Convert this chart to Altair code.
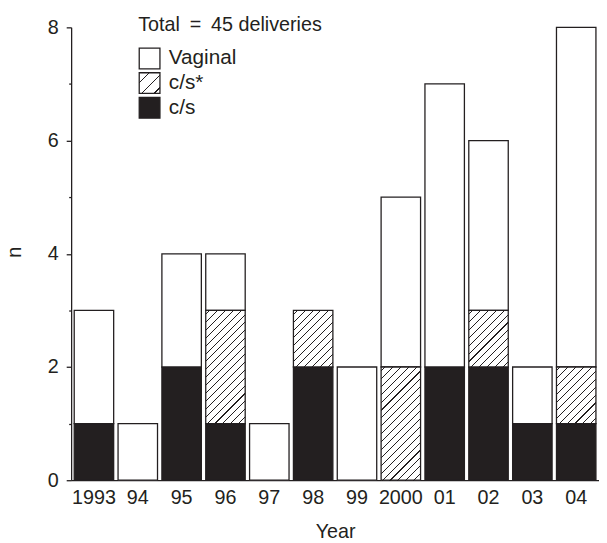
import json
import altair as alt
import pandas as pd

# ---- data ----
years = ["1993", "94", "95", "96", "97", "98", "99", "2000", "01", "02", "03", "04"]
cs = [1, 0, 2, 1, 0, 2, 0, 0, 2, 2, 1, 1]
cs_star = [0, 0, 0, 2, 0, 1, 0, 2, 0, 1, 0, 1]
vaginal = [2, 1, 2, 1, 1, 0, 2, 3, 5, 3, 1, 6]
categories = ["Vaginal", "c/s*", "c/s"]
legend_title = "Total\u2002=\u200245 deliveries"

INK = "#231f20"
FONT = "Liberation Sans"
W, H = 535, 459
YMAX = 8

rows = []
for i, yr in enumerate(years):
    base = 0
    for cat, vals in (("c/s", cs), ("c/s*", cs_star), ("Vaginal", vaginal)):
        v = vals[i]
        if v > 0:
            rows.append({"year": yr, "cat": cat, "n": v, "y0": base, "y1": base + v})
        base += v
df = pd.DataFrame(rows)

# band geometry (used only to shape the hatch gradient)
PI, PO = 0.10, 0.07
step = W / (len(years) - PI + 2 * PO)
bw = step * (1 - PI)
unit = H / YMAX


def hatch(w, h, p=8.0, th=1.1, phase=4.0):
    S = w + h
    stops = [{"offset": 0, "color": "white"}]
    s = phase
    while s - th / 2 < S:
        a = max(0.0, (s - th / 2) / S)
        b = min(1.0, (s + th / 2) / S)
        stops += [
            {"offset": round(a, 5), "color": "white"},
            {"offset": round(a, 5), "color": INK},
            {"offset": round(b, 5), "color": INK},
            {"offset": round(b, 5), "color": "white"},
        ]
        s += p
    stops.append({"offset": 1, "color": "white"})
    d = w * w + h * h
    return {"gradient": "linear", "x1": 0, "y1": 0,
            "x2": round(w * S / d, 5), "y2": round(h * S / d, 5), "stops": stops}


legend_grad = hatch(21, 21, p=13.0, th=1.3, phase=10.0)

x_scale = alt.Scale(paddingInner=PI, paddingOuter=PO)
x_enc = alt.X("year:N", sort=years, title="Year", scale=x_scale,
              axis=alt.Axis(labelAngle=0, ticks=False, labelPadding=8,
                            titlePadding=14))
y_enc = alt.Y("y0:Q", title="n",
              scale=alt.Scale(domain=[0, YMAX], nice=False),
              axis=alt.Axis(values=list(range(0, YMAX + 1)), format="d",
                            labelExpr="datum.value % 2 === 0 ? datum.label : ''",
                            tickSize={"condition": {"test": "datum.value % 2 === 0", "value": 5}, "value": 2.5},
                            labelPadding=8, titleAngle=-90, titleBaseline="alphabetic",
                            titleX=-51, titleY=H / 2 - 2))

base = alt.Chart(df)

bars = base.transform_filter("datum.cat !== 'c/s*'").mark_bar(
    stroke=INK, strokeWidth=1.3
).encode(
    x=x_enc,
    y=y_enc,
    y2="y1:Q",
    fill=alt.Fill("cat:N", title=legend_title,
                  scale=alt.Scale(domain=categories,
                                  range=["white", alt.ExprRef(json.dumps(legend_grad)), INK]),
                  legend=alt.Legend(orient="none", legendX=68, legendY=-12,
                                    symbolType="square", symbolSize=441,
                                    symbolStrokeColor=INK, symbolStrokeWidth=1.3,
                                    labelOffset=8, rowPadding=-2, titlePadding=12,
                                    titleLimit=400, labelLimit=200,
                                    padding=0)),
)

layers = [bars]
for hgt in (1, 2):
    layers.append(
        base.transform_filter(f"datum.cat === 'c/s*' && datum.n === {hgt}").mark_bar(
            stroke=INK, strokeWidth=1.3
        ).encode(
            x=alt.X("year:N", sort=years, scale=x_scale),
            y=alt.Y("y0:Q"),
            y2="y1:Q",
            fill=alt.value(hatch(bw, unit * hgt)),
        )
    )

chart = alt.layer(*layers).properties(
    width=W, height=H,
    autosize=alt.AutoSizeParams(type="none"),
    padding={"left": 64, "top": 16, "right": 0, "bottom": 60},
    background="white",
).configure_view(stroke=None).configure_axis(
    labelFont=FONT, titleFont=FONT, labelFontSize=20, titleFontSize=20,
    labelColor=INK, titleColor=INK, titleFontWeight="normal",
    domainColor=INK, domainWidth=1.3, tickColor=INK, tickWidth=1.3, grid=False,
).configure_legend(
    labelFont=FONT, titleFont=FONT, labelFontSize=21, titleFontSize=20,
    labelColor=INK, titleColor=INK, titleFontWeight="normal",
)

chart.save("out.html", embed_options={"renderer": "svg", "actions": False})
